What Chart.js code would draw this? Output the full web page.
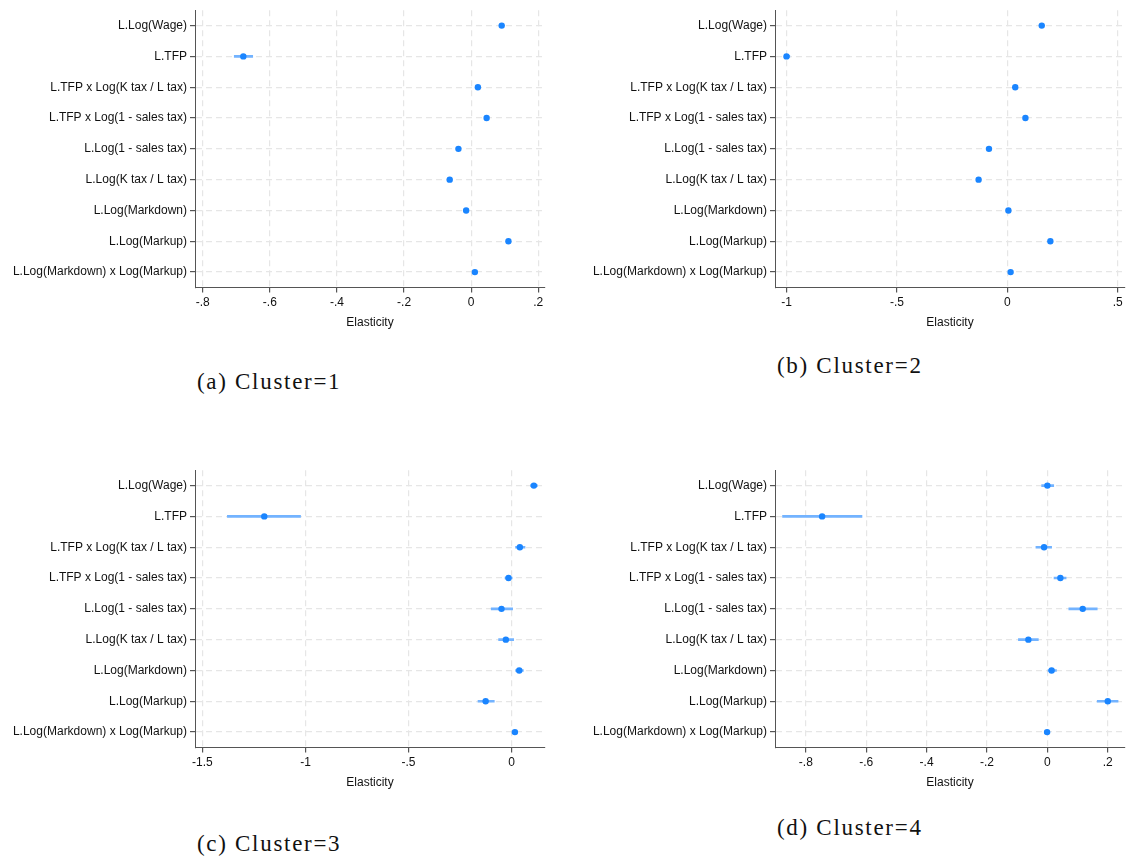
<!DOCTYPE html>
<html>
<head>
<meta charset="utf-8">
<script src="https://cdn.jsdelivr.net/npm/chart.js@4.4.1/dist/chart.umd.min.js"></script>
<style>
  body { margin: 0; background: #fff; width: 1129px; height: 862px; position: relative; overflow: hidden; }
  .box { position: absolute; }
  .cap { position: absolute; font-family: "Liberation Serif", serif; font-size: 23px; letter-spacing: 1.7px; color: #111; white-space: nowrap; }
</style>
</head>
<body>
<div class="box" style="left:0;top:0;width:555px;height:330px"><canvas id="c1"></canvas></div>
<div class="box" style="left:580px;top:0;width:549px;height:330px"><canvas id="c2"></canvas></div>
<div class="box" style="left:0;top:460px;width:555px;height:330px"><canvas id="c3"></canvas></div>
<div class="box" style="left:580px;top:460px;width:549px;height:330px"><canvas id="c4"></canvas></div>
<div class="cap" style="left:197px;top:369px">(a) Cluster=1</div>
<div class="cap" style="left:777px;top:353px">(b) Cluster=2</div>
<div class="cap" style="left:197px;top:831px">(c) Cluster=3</div>
<div class="cap" style="left:777px;top:815px">(d) Cluster=4</div>
<script>
const terms = [
  "L.Log(Wage)",
  "L.TFP",
  "L.TFP x Log(K tax / L tax)",
  "L.TFP x Log(1 - sales tax)",
  "L.Log(1 - sales tax)",
  "L.Log(K tax / L tax)",
  "L.Log(Markdown)",
  "L.Log(Markup)",
  "L.Log(Markdown) x Log(Markup)"
];

// point estimates per cluster
const coef1 = [0.091, -0.679, 0.020, 0.046, -0.038, -0.064, -0.015, 0.111, 0.011];
const coef2 = [0.156, -1.000, 0.036, 0.082, -0.083, -0.130, 0.005, 0.195, 0.015];
const coef3 = [0.108, -1.200, 0.040, -0.015, -0.049, -0.028, 0.037, -0.126, 0.016];
const coef4 = [0.000, -0.746, -0.011, 0.043, 0.117, -0.063, 0.014, 0.200, -0.001];

// confidence intervals [low, high]
const ci1 = [[0.087, 0.095], [-0.706, -0.651], [0.016, 0.024], [0.042, 0.050], [-0.042, -0.034], [-0.068, -0.060], [-0.019, -0.011], [0.107, 0.115], [0.007, 0.015]];
const ci2 = [[0.150, 0.162], [-1.010, -0.985], [0.030, 0.042], [0.076, 0.088], [-0.089, -0.077], [-0.136, -0.124], [-0.001, 0.011], [0.189, 0.201], [0.009, 0.021]];
const ci3 = [[0.092, 0.125], [-1.379, -1.024], [0.019, 0.065], [-0.032, 0.003], [-0.099, 0.005], [-0.063, 0.010], [0.019, 0.057], [-0.163, -0.084], [0.003, 0.029]];
const ci4 = [[-0.019, 0.021], [-0.877, -0.614], [-0.038, 0.014], [0.022, 0.062], [0.071, 0.165], [-0.096, -0.030], [0.000, 0.030], [0.165, 0.234], [-0.010, 0.008]];

// x axis ticks and ranges
const ticks1 = [-0.8, -0.6, -0.4, -0.2, 0, 0.2];
const ticks2 = [-1, -0.5, 0, 0.5];
const ticks3 = [-1.5, -1, -0.5, 0];
const ticks4 = [-0.8, -0.6, -0.4, -0.2, 0, 0.2];
const range1 = [-0.823, 0.22];
const range2 = [-1.052, 0.533];
const range3 = [-1.536, 0.162];
const range4 = [-0.902, 0.257];

function stataLabel(v) {
  if (Math.abs(v) < 1e-9) return "0";
  let s = String(Math.round(v * 1000) / 1000);
  return s.replace(/^(-?)0\./, "$1.");
}

const gridColor = "#e6e6e6";
const axisColor = "#555555";
const font = { family: "Liberation Sans, Arial, sans-serif", size: 12 };

function makeChart(id, coef, ci, ticks, range, padRight) {
  new Chart(document.getElementById(id), {
    type: "bar",
    data: {
      labels: terms,
      datasets: [
        {
          type: "bar",
          data: ci,
          backgroundColor: "#73b3ff",
          barThickness: 2,
          borderWidth: 0,
          order: 2
        },
        {
          type: "line",
          data: coef,
          showLine: false,
          pointRadius: 3.2,
          pointBackgroundColor: "#1a85ff",
          pointBorderWidth: 0,
          order: 1
        }
      ]
    },
    options: {
      indexAxis: "y",
      responsive: true,
      maintainAspectRatio: false,
      animation: false,
      layout: { padding: { top: 7.5, right: padRight, bottom: 0, left: 0 } },
      plugins: { legend: { display: false }, tooltip: { enabled: false } },
      scales: {
        x: {
          type: "linear",
          min: range[0],
          max: range[1],
          afterBuildTicks: (s) => { s.ticks = ticks.map((v) => ({ value: v })); },
          afterFit: (s) => { s.height = 42.5; },
          ticks: {
            callback: (v) => stataLabel(v),
            color: "#111",
            font: font,
            padding: 3,
            maxRotation: 0
          },
          grid: {
            color: gridColor,
            tickColor: axisColor,
            tickBorderDash: [],
            tickLength: 5,
            lineWidth: 1.2
          },
          border: { display: true, color: axisColor, width: 1, dash: [6, 4] },
          title: { display: true, text: "Elasticity", color: "#111", font: font, padding: { top: 0, bottom: 0 } }
        },
        y: {
          type: "category",
          offset: true,
          afterFit: (s) => { s.width = 195; },
          ticks: { color: "#111", font: font, padding: 3 },
          grid: {
            offset: false,
            color: gridColor,
            tickColor: axisColor,
            tickBorderDash: [],
            tickLength: 5,
            lineWidth: 1.2
          },
          border: { display: true, color: axisColor, width: 1, dash: [6, 4] }
        }
      }
    }
  });
}

makeChart("c1", coef1, ci1, ticks1, range1, 10);
makeChart("c2", coef2, ci2, ticks2, range2, 4);
makeChart("c3", coef3, ci3, ticks3, range3, 10);
makeChart("c4", coef4, ci4, ticks4, range4, 4);
</script>
</body>
</html>
